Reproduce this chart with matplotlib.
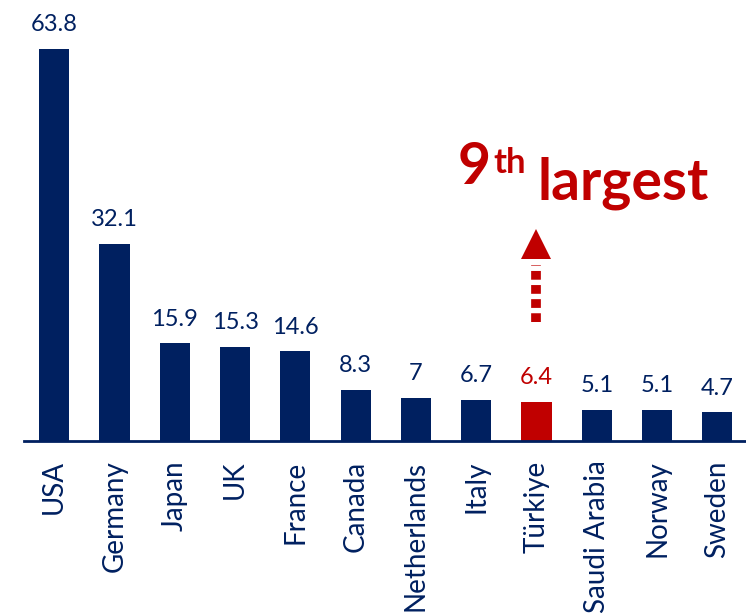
import numpy as np
import matplotlib.pyplot as plt

plt.rcParams['font.family'] = ['Lato', 'DejaVu Sans']

countries = ['USA', 'Germany', 'Japan', 'UK', 'France', 'Canada', 'Netherlands',
             'Italy', 'Türkiye', 'Saudi Arabia', 'Norway', 'Sweden']
values = [63.8, 32.1, 15.9, 15.3, 14.6, 8.3, 7, 6.7, 6.4, 5.1, 5.1, 4.7]
labels = ['63.8', '32.1', '15.9', '15.3', '14.6', '8.3', '7', '6.7', '6.4', '5.1', '5.1', '4.7']
highlight = 'Türkiye'

navy = '#002060'
red = '#C00000'

fig = plt.figure(figsize=(7.46, 6.16), dpi=100)
ax = fig.add_axes([24 / 746, 175 / 616, 1 - 24 / 746 + 0.002, 441 / 616])

x = np.arange(len(countries))
colors = [red if c == highlight else navy for c in countries]
ax.bar(x, values, width=0.5, color=colors, zorder=2)

# value labels above bars
for xi, v, lab, c in zip(x, values, labels, colors):
    ax.text(xi, v + 2.2, lab, ha='center', va='bottom', fontsize=17, color=c)

ax.set_xlim(-0.5, len(countries) - 0.5)
ax.set_ylim(0, 71.7)
ax.set_xticks(x)
ax.set_xticklabels(countries, rotation=90, fontsize=20, color=navy)
ax.tick_params(axis='x', length=0, pad=14)
ax.set_yticks([])
for s in ['top', 'right', 'left']:
    ax.spines[s].set_visible(False)
ax.spines['bottom'].set_color(navy)
ax.spines['bottom'].set_linewidth(2)

# dotted arrow above Türkiye
ti = countries.index(highlight)
ax.plot([ti, ti], [19.4, 28.6], color=red, lw=7, linestyle=(0, (0.9, 0.55)),
        dash_capstyle='butt')
ax.plot([ti], [32.0], marker='^', markersize=21, color=red, markeredgewidth=0)

# "9th largest"
t9 = fig.text(458 / 746, 1 - 184 / 616, '9', fontsize=41, fontweight='bold', color=red,
              ha='left', va='baseline')
th = ax.annotate('th', xy=(1, 0), xycoords=t9, xytext=(2, 15), textcoords='offset points',
                 fontsize=25, fontweight='bold', color=red, ha='left', va='baseline',
                 annotation_clip=False)
ax.annotate('largest', xy=(1, 0), xycoords=th, xytext=(8, -15), textcoords='offset points',
            fontsize=41, fontweight='bold', color=red, ha='left', va='baseline',
            annotation_clip=False)

fig.savefig('out.png', dpi=100)
